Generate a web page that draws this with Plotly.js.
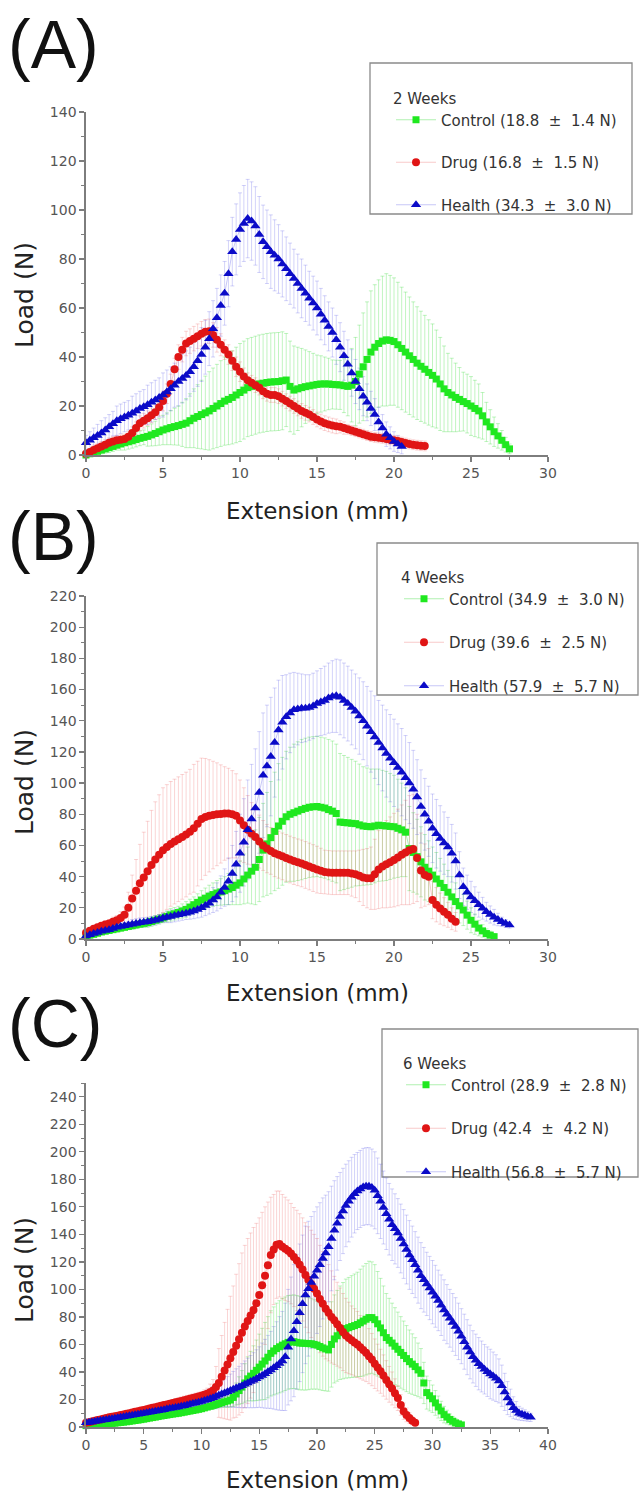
<!DOCTYPE html>
<html>
<head>
<meta charset="utf-8">
<script src="https://cdn.plot.ly/plotly-3.0.1.min.js"></script>
<style>
  html, body { margin: 0; padding: 0; background: #ffffff; }
  #chart { width: 639px; height: 1501px; }
</style>
</head>
<body>
<div id="chart"></div>
<script>
// Load–extension curves (mean ± SD). Each series starts at 0 mm and is
// sampled at a fixed extension step per panel (mm).
const stepMm = [0.25, 0.25, 0.25];

// ---- (A) 2 weeks ----
const ctrlA = [0,0.5,1,1.5, 2,2.5,3,3.5, 4,4.5,5,5.4, 5.8,6.3,6.8,7.2, 7.6,8.2,8.8,9.5, 10.2,10.7,11.2,11.6, 12,12.5,13,14, 15,15.7,16.5,17.2, 18,19,20,21, 22,22.7,23.5,24.5, 25.5,26.5,27.5,28, 28.5,29,29.3,29.6, 29.8,29.9,30,30.3, 30.6,28,26.5,27, 27.5,27.9,28.2,28.5, 28.8,29,29,29, 28.8,28.7,28.6,28.3, 28,28.5,30,33, 36,39,42,44, 45.5,46.5,47,46.8, 46.3,45,43.5,42, 40.5,39,37.5,36.2, 35,33.7,32.5,31, 29,27,25.5,24.5, 23.5,22.7,21.8,21, 20,19,18,16, 13.5,11.5,9.5,7.8, 6,4.2,2.5];
const ctrlAErr = [0.5,0.7,1,1.2, 1.5,1.7,2,2, 2,2.5,3,3, 3,3,3,3, 4,4.5,5,5.5, 6,6.5,7,7.5, 8,9,10,11, 12,13,14,15, 16,16.5,17,17.5, 18,18.5,19,19.5, 20,20,20,20, 20,20,20,20, 20,20,20,20, 19,18.5,18,17, 16,15,14,13, 12,11.5,11,10.5, 10,10,10,11, 12,15,18,20, 22,23.5,25,25.5, 26,26.5,27,26.5, 26,25.5,25,24.5, 24,23.5,23,22.5, 22,21.5,21,20, 19,17.5,16,15, 14,13,12,12, 12,11.5,11,9.5, 8,7,6,5, 4,3,2];
const drugA = [0.5,1.2,2,2.8, 3.5,4.2,5,5.5, 6,6.2,6.5,7.5, 9,11,13,14, 15,16.2,17.5,19.5, 22,25,29,35, 40,43,45.5,46.5, 47.5,48.5,49.5,50.3, 50.5,49,47,45, 43,41,38.5,36, 34,32,30.5,29.5, 28.5,27.5,26,25, 24.5,24.5,24,23, 22,21,20,19, 18,17.2,16.5,15.5, 14.5,13.7,13,12.5, 12,11.7,11.5,11, 10.5,10,9.5,9, 8.5,8,7.5,7.2, 7,6.8,6.5,6.2, 6,5.7,5.3,4.9, 4.5,4.2,4,3.8, 3.7];
const drugAErr = [1,1.5,2,2, 2,2,2,2, 2,2,2,2, 2.5,2.5,3,3, 3,3,3,3.5, 4,4,4,4.5, 5,5,5,5, 5,5,5,5, 5,5,5,4.5, 4,4,4,4, 4,3.5,3,3, 3,3,3,3, 3,3,3,3, 3,3,3,3, 3,3,3,3, 3,3,3,3, 3,3,2.5,2.5, 2,2,2,2, 2,2,2,2, 2,2,2,2, 2,2,2,2, 2,2,2,2, 2];
const healthA = [5,6,7,8, 9,10.2,11.5,12.8, 14,14.8,15.5,16.2, 17,18,19,19.7, 20.5,21.5,22.5,23.5, 24.5,25.7,27,28.5, 30,31.2,32.5,34, 36,38.5,41,44, 47.5,51.5,56,61, 66,74,83,88, 92,94.5,96.5,95.5, 93.5,90,87,85, 83,81.5,80,78, 76,74,72,70, 68,66,64,62, 60,57.5,55,52.5, 50,47,44,40.5, 37,33.5,30,27, 24,21.5,19,16.5, 13.5,11,8.5,7, 5.5,4.5,3.5];
const healthAErr = [3,3.5,4,4.5, 5,5,5,5, 6,6,6,6, 7,7,7,7, 8,8,8,8, 9,9,9,9, 10,10,10,10, 10,10.5,11,11, 11,11.5,12,12.5, 13,13.5,14,14.5, 15,15.5,16,16, 16,15.5,15,15, 15,14.5,14,13.5, 13,12.5,12,12, 12,11.5,11,11, 11,10.5,10,10, 10,10,10,10, 10,9.5,9,8.5, 8,7.5,7,6.5, 6,5.5,5,4.5, 4,3.5,3];

// ---- (B) 4 weeks ----
const ctrlB = [2,2.5,3,3.7, 4.5,5,5.5,6, 6.5,7,7.5,8, 8.5,9,9.5,10, 10.5,11.2,12,12.7, 13.5,14.5,15.5,16.2, 17,18,19,20.5, 22,23.5,25,26.2, 27.5,28.5,29.5,30.2, 31,32,33,34.5, 36,38.5,41,43.5, 46,51,57,61, 65,69,72.5,75.5, 78.4,80,81,82, 83,83.8,84.5,84.8, 85,84.5,84,83, 82,80.5,75,74.7, 74.5,74.2,74,73.2, 72.5,72.2,72,72.5, 73,72.7,72.5,72.2, 72,71,70,68.5, 58,55.5,52.8,49.5, 46,43.5,41,38.5, 35.7,33,30,27, 24,21.3,18.6,15.3, 12,9.5,7,5.2, 3.5,2.5,1.5];
const ctrlBErr = [1,1,1,1, 1,1,1,1.5, 2,2,2,2, 2,2,2,2.5, 3,3,3,3, 3,3.5,4,4, 4,4.5,5,5, 5,5.5,6,6.5, 7,7.5,8,8.5, 9,10,11,12.5, 14,16,18,21, 24,27,30,33, 36,38,40,41, 42,43,44,44.5, 45,45,45,45, 45,45,45,45, 45,44.5,44,43, 42,41,40,39, 38,37.5,37,36.5, 36,35.5,35,34, 33,31.5,30,28.5, 27,25.5,24,22.5, 21,19.5,18,17, 16,15,14,13, 12,11,10,9, 8,6.5,5,4, 3,2.5,2];
const drugB = [4,5.3,6.5,7.5, 8.5,9.3,10,11, 12,13.5,15.5,20, 26,31,35.7,39.5, 43.5,47.5,51,54, 57,59,61,62.5, 64,65.5,67,68.8, 71,74,77,78.3, 79,79.5,80,80.2, 80.5,80.5,80,79, 76,73,70,67.5, 65.5,62.5,60,58, 56.5,55,54,53, 52,51,50,49.2, 48.5,47.5,46.5,45.5, 44.5,43.7,43,42.7, 42.5,42.5,42.5,42.5, 42.5,42,41.5,40.5, 39.5,39,39,41.5, 44.5,46.5,48,49.3, 50.6,52.3,54,55.5, 57,57.8,52,44, 41,40,25,22, 19.5,17.5,15.5,13, 11];
const drugBErr = [1,1.5,2,2, 2,2.5,2.5,3, 3,4,5,10, 15,20,25,29, 32,35,37,38.5, 40,40,40,40, 40,40,40,40, 41,40,39,37.5, 36,34.5,33,31.5, 30,29,28,27, 26,24,22,20, 18,17,16,15.5, 15,15,15,15, 15,15,15,15, 15,15,15,15, 15,14.5,14,14, 14,14,14,14, 14,14.5,15,16.5, 18,19,20,22.5, 25,26.5,28,29, 30,31,32,33.5, 35,35,28,24, 20,18,12,11, 10,9,8,7, 6];
const healthB = [2,2.8,3.5,4.2, 5,5.5,6,6.7, 7.5,8,8.5,9, 9.5,10,10.5,10.7, 11,11.5,12,12.7, 13.5,14,14.5,15, 15.5,16,16.5,17.2, 18,19,20,21.5, 23,25,27,30, 33,37,42,48, 55,62,70,77, 84,94,105,111, 117,126,134,139, 142.5,145,147,147.5, 148,148,148.5,149.5, 151,152,153,154.5, 155.5,156,155,153, 151,148.5,146,143, 140,136.5,133,129.5, 126,122.5,119,116, 113,110,107,103.5, 100,96,91,85, 80,75.5,71,67.5, 64.5,61.5,59,55, 50,41,33.5,30, 27,24.5,22,19.7, 17.5,15.7,14,12.5, 11,10,9];
const healthBErr = [1,1,1,1, 2,2,2,2, 2,2,2,2, 3,3,3,3, 3,3,3,3, 3,3.5,4,4, 4,4,4,4.5, 5,5.5,6,6.5, 7,8,9,10.5, 12,15,18,21, 25,28,32,35, 38,39,40,39, 38,35,32,30, 27,25.5,24,23, 22,21.5,21,21, 21,21.5,22,22.5, 23,23.5,24,24, 24,24,24,24.5, 25,25.5,26,26.5, 27,27.5,28,28, 28,28,28,27, 26,25,24,23.5, 23,22.5,22,22, 21,20,19,18.5, 18,15,12,11, 10,9,8,7, 6,5.5,5,4, 3,2.5,2];

// ---- (C) 6 weeks ----
const ctrlC = [1,1.15,1.3,1.45, 1.6,1.8,2,2.2, 2.4,2.6,2.8,3.05, 3.3,3.55,3.8,4.1, 4.4,4.7,5,5.35, 5.7,6.1,6.5,6.85, 7.2,7.6,8,8.35, 8.7,9.05,9.4,9.7, 10,10.4,10.8,11.2, 11.6,12,12.4,12.85, 13.3,13.9,14.5,15.1, 15.7,16.35,17,17.65, 18.3,18.9,19.6,21.5, 24,26.5,29,32, 35,37,39,41.2, 43.5,45.7,48,50.7, 53.5,55.3,57,58.3, 59.5,60.5,61.5,61.8, 62,61.5,61,60.9, 60.8,60.6,60.5,60, 59.5,58.5,57.5,56.7, 56,60,64,66.3, 68.5,70,71.5,72.2, 73,73.7,74.5,75.7, 77,78.3,79.5,79.5, 78,75,72,68.5, 65,63,61,58.7, 56.5,54.2,52,49.7, 47.5,45.7,43.9,41.5, 39,32,25,22.7, 20.5,17.5,14.5,11.7, 9,7.2,5.5,4.2, 3,2.2,1.5];
const ctrlCErr = [0.5,0.5,0.5,0.5, 0.5,0.5,0.5,0.7, 1,1,1,1, 1,1,1,1, 1,1,1,1, 1,1,1,1, 1,1,1,1.5, 2,2,2,2, 2,2,2,2, 2,2,2,2, 2,2,2,2, 3,3,3,3, 4,4.5,5,6.5, 8,10,12,14, 16,18,20,22, 24,26,28,29.5, 31,32,33,33.5, 34,34,34,34, 34,34,34,34, 34,33.5,33,32.5, 32,31.5,31,30.5, 30,31,32,33, 34,35,36,36.5, 37,37.5,38,39, 40,40.5,41,40.5, 40,38,36,34, 32,30.5,29,28, 27,26,25,24, 23,22,21,19.5, 18,15,12,11, 10,9,8,7, 6,5,4,3.5, 3,2.5,2];
const drugC = [3,3.5,4,4.5, 5,5.5,6,6.5, 7,7.4,7.8,8.25, 8.7,9.15,9.6,10.05, 10.5,11,11.5,11.95, 12.4,12.9,13.4,13.9, 14.4,14.9,15.4,15.9, 16.4,16.9,17.4,17.9, 18.4,18.9,19.4,19.95, 20.5,21.05,21.6,22.2, 22.8,23.5,24.2,25.2, 26.5,29,32,36.5, 41,45.5,50,54.5, 59,63.7,68.5,73, 77,81,85,90, 96,103,110,117.5, 125,129,132.5,133, 131,129.5,128,126, 123.5,121,118,114.5, 110.5,107,104,100.5, 97,93,89.5,86, 83,80,77.5,74.7, 72,69,66.5,64.7, 63,61.5,60,58, 56,54,51.5,49, 46,43.2,40.5,37.4, 34.2,31,28,24.5, 21,16,11.5,8.8, 6.5,4.5,3];
const drugCErr = [1,1,1,1, 1,1,1,1, 1,1.5,2,2, 2,2,2,2, 2,2,2,2, 2,2,2,2, 2,2,2,2, 2,2,2,2.5, 3,3,3,3, 3,3,3,3, 3,3.5,4,6, 8,15,25,30, 35,40,45,48, 52,55,58,59, 60,60,60,58, 56,53,50,46, 42,40,39,38.5, 38,37.5,37,36.5, 36,36.5,37,37.5, 38,38.5,39,39.5, 40,39,38,36.5, 35,33.5,32,30.5, 29,28,27,26, 25,24.5,24,23, 22,21,20,19, 18,17,16,15, 14,13,12,10.5, 9,7.5,6,5, 4,3,2];
const healthC = [3,3.35,3.7,4.05, 4.4,4.7,5,5.35, 5.7,6.05,6.4,6.75, 7.1,7.45,7.8,8.15, 8.5,8.85,9.2,9.6, 10,10.35,10.7,11.05, 11.4,11.8,12.2,12.6, 13,13.4,13.8,14.2, 14.6,15.05,15.5,16, 16.5,17,17.5,18, 18.6,19.2,19.8,20.5, 21.3,22.1,23,23.9, 24.8,25.6,26.5,27.4, 28.3,29.1,30,31, 32,33,34,35.1, 36.3,37.5,38.7,40.1, 41.5,43,44.5,46.2, 48,51,58,64, 70,76.5,83,89.5, 96,100.5,105,109.5, 114,118,122.5,126.5, 131,137,143,148, 153,157,161,164, 167,169.5,171.5,173, 174.5,175,175,174, 172,168,164,159.5, 155,151,147,144, 141,137,133,129, 125,121.5,118,114, 110,107,104,101, 98,95,92,88.5, 85,82,79,76, 73,69.5,66,62, 58,54.5,51,48.5, 46,44,42,40.2, 38.5,37,35.5,33.5, 30,25.5,21,17.5, 14,12,10,9.2, 8.5,7.7,7];
const healthCErr = [2,2,2,2, 2,2,2,2, 2,2.5,3,3, 3,3,3,3, 3,3,3,3, 4,4,4,4, 4,4,4,4, 4,4.5,5,5, 5,5,5,5, 5,5.5,6,6, 6,6.5,7,7.5, 8,8.5,9,9.5, 10,11,12,13, 14,15,16,17, 18,19,20,21, 22,23.5,25,26.5, 28,30,32,34, 36,39,42,45, 48,49,50,50, 50,49,48,47, 46,45,44,42, 40,38,36,34, 32,31,30,29.5, 29,28.5,28,28, 28,28,28,28, 28,27.5,27,26.5, 26,26,26,25.5, 25,25,25,25, 25,24.5,24,24, 24,23.5,23,23, 23,22.5,22,22, 22,21.5,21,21, 21,20.5,20,20, 20,19.5,19,19, 19,18.5,18,18, 18,17.5,17,16, 15,13.5,12,10, 8,6.5,5,4.5, 4,3.5,3];

// Panel headings and legend texts
const panelLabels = ['(A)', '(B)', '(C)'];
const legendTitles = ['2 Weeks', '4 Weeks', '6 Weeks'];
const ctrlNames   = ['Control (18.8\u00a0 \u00b1\u00a0 1.4 N)', 'Control (34.9\u00a0 \u00b1\u00a0 3.0 N)', 'Control (28.9\u00a0 \u00b1\u00a0 2.8 N)'];
const drugNames   = ['Drug (16.8\u00a0 \u00b1\u00a0 1.5 N)', 'Drug (39.6\u00a0 \u00b1\u00a0 2.5 N)', 'Drug (42.4\u00a0 \u00b1\u00a0 4.2 N)'];
const healthNames = ['Health (34.3\u00a0 \u00b1\u00a0 3.0 N)', 'Health (57.9\u00a0 \u00b1\u00a0 5.7 N)', 'Health (56.8\u00a0 \u00b1\u00a0 5.7 N)'];
const xMax = [30, 30, 40];
const yMax = [140, 220, 250];
const xTitle = 'Extension (mm)';
const yTitle = 'Load (N)';

// ---------- page geometry (pixels of the 639 x 1501 page) ----------
const W = 639, H = 1501;
const fx = p => p / W;
const fy = p => 1 - p / H;

const plotLeft = 86, plotRight = 548;
const plotTopBottom = [[112, 455], [596, 939], [1083, 1427]];
const legendBoxes = [[370, 63, 632, 214], [377, 543, 638, 695], [382, 1029, 638, 1177]];
const legendOrigin = [[391, 84], [399, 563], [401, 1049]];
const legendGap = [20, 21, 21];
const labelY = [44, 536, 1023];
const xTitleY = [511, 993, 1480];
const yTitleY = [295, 782, 1270];

const AXIS_GREY = '#7d7d7d';
const TICK_FONT = {family: 'DejaVu Sans, sans-serif', size: 14, color: '#555555'};
const TEXT_FONT = 'DejaVu Sans, sans-serif';

const STYLE = {
  control: {symbol: 'square',      size: 7, color: '#1fe81f', faint: 'rgba(40,215,40,0.36)'},
  drug:    {symbol: 'circle',      size: 8, color: '#e01515', faint: 'rgba(235,80,80,0.30)'},
  health:  {symbol: 'triangle-up', size: 9, color: '#0b0bc8', faint: 'rgba(70,70,230,0.30)'}
};

function axisSuffix(k) { return k === 0 ? '' : String(k + 1); }

function errorTrace(y, err, st, k) {
  const sfx = axisSuffix(k);
  return {
    type: 'scatter', mode: 'markers', x0: 0, dx: stepMm[k], y: y,
    xaxis: 'x' + sfx, yaxis: 'y' + sfx,
    marker: {size: 1, color: 'rgba(0,0,0,0)'},
    error_y: {type: 'data', array: err, visible: true, color: st.faint, thickness: 0.8, width: 2},
    showlegend: false, hoverinfo: 'skip', cliponaxis: true
  };
}

function markerTrace(y, st, name, k, group) {
  const sfx = axisSuffix(k);
  return {
    type: 'scatter', mode: 'lines+markers', x0: 0, dx: stepMm[k], y: y, name: name,
    xaxis: 'x' + sfx, yaxis: 'y' + sfx,
    legend: 'legend' + sfx, legendgroup: group + k,
    line: {color: st.faint, width: 1},
    marker: {symbol: st.symbol, size: st.size, color: st.color, line: {width: 0}},
    cliponaxis: false
  };
}

const panels = [
  [ctrlA, ctrlAErr, drugA, drugAErr, healthA, healthAErr],
  [ctrlB, ctrlBErr, drugB, drugBErr, healthB, healthBErr],
  [ctrlC, ctrlCErr, drugC, drugCErr, healthC, healthCErr]
];

const data = [];
panels.forEach((p, k) => {
  data.push(errorTrace(p[0], p[1], STYLE.control, k));
  data.push(errorTrace(p[2], p[3], STYLE.drug, k));
  data.push(errorTrace(p[4], p[5], STYLE.health, k));
  data.push(markerTrace(p[0], STYLE.control, ctrlNames[k], k, 'control'));
  data.push(markerTrace(p[2], STYLE.drug, drugNames[k], k, 'drug'));
  data.push(markerTrace(p[4], STYLE.health, healthNames[k], k, 'health'));
});

function axis(range, dtick, minorDtick, domain, anchor) {
  return {
    domain: domain, range: range, anchor: anchor, autorange: false,
    tick0: 0, dtick: dtick, ticks: 'outside', ticklen: 5, tickwidth: 1.3, tickcolor: AXIS_GREY,
    showline: true, linecolor: AXIS_GREY, linewidth: 1.6,
    showgrid: false, zeroline: false, tickfont: TICK_FONT, fixedrange: true,
    minor: {ticks: 'outside', dtick: minorDtick, ticklen: 3, tickwidth: 1, tickcolor: AXIS_GREY}
  };
}

const layout = {
  width: W, height: H,
  margin: {l: 0, r: 0, t: 0, b: 0},
  paper_bgcolor: '#ffffff', plot_bgcolor: '#ffffff',
  showlegend: true,
  shapes: [], annotations: []
};

for (let k = 0; k < 3; k++) {
  const sfx = axisSuffix(k);
  const [top, bottom] = plotTopBottom[k];
  layout['xaxis' + sfx] = axis([0, xMax[k]], 5, 2.5, [fx(plotLeft), fx(plotRight)], 'y' + sfx);
  layout['yaxis' + sfx] = axis([0, yMax[k]], 20, 10, [fy(bottom), fy(top)], 'x' + sfx);

  layout['legend' + sfx] = {
    x: fx(legendOrigin[k][0]), y: fy(legendOrigin[k][1]), xanchor: 'left', yanchor: 'top',
    bgcolor: 'rgba(0,0,0,0)', borderwidth: 0, itemwidth: 40,
    font: {family: TEXT_FONT, size: 15, color: '#333333'},
    title: {text: legendTitles[k], font: {family: TEXT_FONT, size: 15, color: '#333333'}},
    tracegroupgap: legendGap[k], itemclick: false, itemdoubleclick: false
  };

  const b = legendBoxes[k];
  layout.shapes.push({
    type: 'rect', xref: 'paper', yref: 'paper',
    x0: fx(b[0]), x1: fx(b[2]), y0: fy(b[3]), y1: fy(b[1]),
    line: {color: '#8a8a8a', width: 1.3}, fillcolor: 'rgba(0,0,0,0)', layer: 'below'
  });

  layout.annotations.push({
    text: panelLabels[k], xref: 'paper', yref: 'paper', x: fx(6), y: fy(labelY[k]),
    xanchor: 'left', yanchor: 'middle', showarrow: false,
    font: {family: 'Liberation Sans, Arial, sans-serif', size: 68, color: '#111111'}
  });
  layout.annotations.push({
    text: xTitle, xref: 'paper', yref: 'paper', x: fx((plotLeft + plotRight) / 2), y: fy(xTitleY[k]),
    xanchor: 'center', yanchor: 'middle', showarrow: false,
    font: {family: TEXT_FONT, size: 23, color: '#222222'}
  });
  layout.annotations.push({
    text: yTitle, xref: 'paper', yref: 'paper', x: fx(24), y: fy(yTitleY[k]),
    xanchor: 'center', yanchor: 'middle', showarrow: false, textangle: -90,
    font: {family: TEXT_FONT, size: 25, color: '#222222'}
  });
}

Plotly.newPlot('chart', data, layout, {staticPlot: true, displayModeBar: false});
</script>
</body>
</html>
